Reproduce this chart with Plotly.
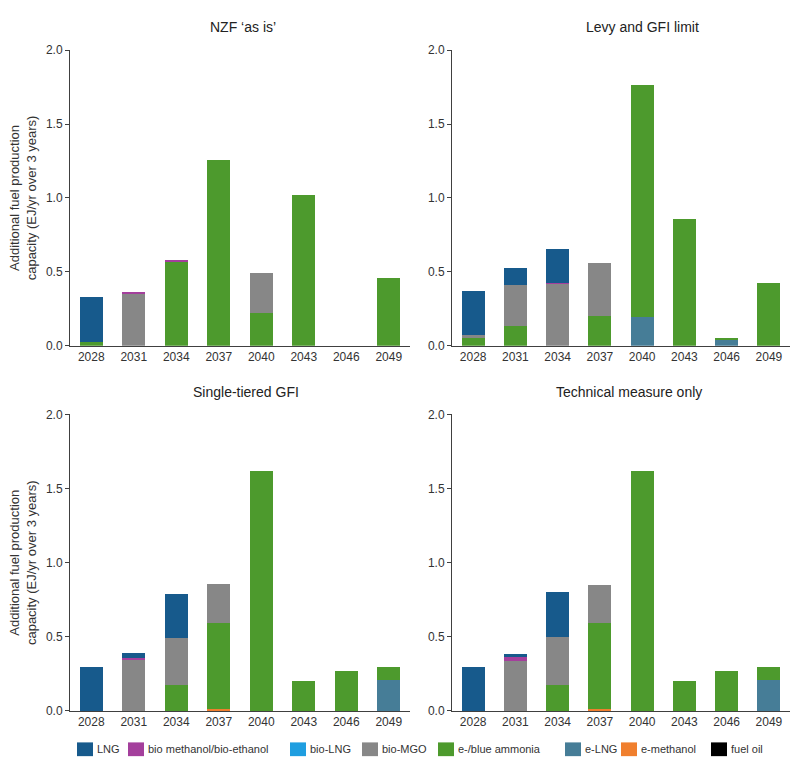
import plotly.graph_objects as go

years = ["2028", "2031", "2034", "2037", "2040", "2043", "2046", "2049"]
scenarios = ["NZF \u2018as is\u2019", "Levy and GFI limit", "Single-tiered GFI", "Technical measure only"]

# stack order bottom -> top
fuels = ["fuel oil", "e-methanol", "e-LNG", "e-/blue ammonia", "bio-MGO", "bio-LNG",
         "bio methanol/bio-ethanol", "LNG"]
legend_order = ["LNG", "bio methanol/bio-ethanol", "bio-LNG", "bio-MGO", "e-/blue ammonia",
                "e-LNG", "e-methanol", "fuel oil"]
colors = {"LNG": "#175a8c", "bio methanol/bio-ethanol": "#a43f9c", "bio-LNG": "#1f9ee0",
          "bio-MGO": "#878787", "e-/blue ammonia": "#4d9a2d", "e-LNG": "#467d97",
          "e-methanol": "#f07f2e", "fuel oil": "#000000"}

Z = [0, 0, 0, 0, 0, 0, 0, 0]

nzf_LNG = [0.31, 0, 0, 0, 0, 0, 0, 0]
nzf_biometh = [0, 0.01, 0.01, 0, 0, 0, 0, 0]
nzf_bioLNG = Z
nzf_bioMGO = [0, 0.355, 0, 0, 0.275, 0, 0, 0]
nzf_ammonia = [0.022, 0, 0.57, 1.26, 0.22, 1.02, 0, 0.458]
nzf_eLNG = Z
nzf_emeth = Z
nzf_fueloil = Z

levy_LNG = [0.30, 0.11, 0.23, 0, 0, 0, 0, 0]
levy_biometh = [0, 0, 0.006, 0, 0, 0, 0, 0]
levy_bioLNG = Z
levy_bioMGO = [0.02, 0.28, 0.42, 0.363, 0, 0, 0, 0]
levy_ammonia = [0.05, 0.133, 0, 0.2, 1.57, 0.855, 0.015, 0.423]
levy_eLNG = [0, 0, 0, 0, 0.195, 0, 0.04, 0]
levy_emeth = Z
levy_fueloil = Z

single_LNG = [0.30, 0.033, 0.302, 0, 0, 0, 0, 0]
single_biometh = [0, 0.015, 0, 0, 0, 0, 0, 0]
single_bioLNG = Z
single_bioMGO = [0, 0.345, 0.313, 0.26, 0, 0, 0, 0]
single_ammonia = [0, 0, 0.177, 0.58, 1.616, 0.199, 0.27, 0.088]
single_eLNG = [0, 0, 0, 0, 0, 0, 0, 0.212]
single_emeth = [0, 0, 0, 0.015, 0, 0, 0, 0]
single_fueloil = Z

tech_LNG = [0.30, 0.022, 0.30, 0, 0, 0, 0, 0]
tech_biometh = [0, 0.022, 0, 0, 0, 0, 0, 0]
tech_bioLNG = Z
tech_bioMGO = [0, 0.34, 0.323, 0.254, 0, 0, 0, 0]
tech_ammonia = [0, 0, 0.177, 0.58, 1.616, 0.199, 0.27, 0.088]
tech_eLNG = [0, 0, 0, 0, 0, 0, 0, 0.212]
tech_emeth = [0, 0, 0, 0.015, 0, 0, 0, 0]
tech_fueloil = Z

def pack(LNG, biometh, bioLNG, bioMGO, ammonia, eLNG, emeth, fueloil):
    return {"LNG": LNG, "bio methanol/bio-ethanol": biometh, "bio-LNG": bioLNG,
            "bio-MGO": bioMGO, "e-/blue ammonia": ammonia, "e-LNG": eLNG,
            "e-methanol": emeth, "fuel oil": fueloil}

data = [
    pack(nzf_LNG, nzf_biometh, nzf_bioLNG, nzf_bioMGO, nzf_ammonia, nzf_eLNG, nzf_emeth, nzf_fueloil),
    pack(levy_LNG, levy_biometh, levy_bioLNG, levy_bioMGO, levy_ammonia, levy_eLNG, levy_emeth, levy_fueloil),
    pack(single_LNG, single_biometh, single_bioLNG, single_bioMGO, single_ammonia, single_eLNG, single_emeth, single_fueloil),
    pack(tech_LNG, tech_biometh, tech_bioLNG, tech_bioMGO, tech_ammonia, tech_eLNG, tech_emeth, tech_fueloil),
]

W, H = 800, 771
# panel pixel boxes: (x0, x1, ytop, ybottom)
boxes = [(70, 410, 44, 345), (452, 790, 44, 345), (70, 410, 415, 717), (452, 790, 415, 717)]
title_pos = [(243, 20), (642, 20), (246, 392), (629, 392)]

fig = go.Figure()
layout = {}
for i, (sc, d) in enumerate(zip(scenarios, data)):
    n = "" if i == 0 else str(i + 1)
    for f in fuels:
        fig.add_trace(go.Bar(x=years, y=d[f], name=f, marker=dict(color=colors[f], line=dict(width=0)),
                             xaxis="x" + n, yaxis="y" + n, showlegend=False))
    x0, x1, yt, yb = boxes[i]
    layout["xaxis" + n] = dict(domain=[x0 / W, x1 / W], anchor="y" + n, type="category",
                               showline=True, linecolor="#404040", linewidth=1, ticks="",
                               tickfont=dict(size=12, color="#333333"), showgrid=False)
    yax = dict(domain=[1 - yb / H, 1 - yt / H], anchor="x" + n, range=[0, 2], dtick=0.5,
               tickformat=".1f", showline=True, linecolor="#404040", linewidth=1,
               ticks="outside", ticklen=4, tickcolor="#404040",
               tickfont=dict(size=12, color="#333333"), showgrid=False, zeroline=False)
    if i in (0, 2):
        yax["title"] = dict(text="Additional fuel production<br>capacity (EJ/yr over 3 years)",
                            font=dict(size=13, color="#333333"), standoff=6)
    layout["yaxis" + n] = yax
    tx, ty = title_pos[i]
    fig.add_annotation(text=sc, x=tx / W, y=1 - ty / H, xref="paper", yref="paper",
                       showarrow=False, font=dict(size=14, color="#222222"),
                       xanchor="center", yanchor="middle")

# custom compact legend (swatch left edges in px)
legend_x = [77, 128, 290, 362, 438, 565, 621, 711]
ly = 756
for f, lx in zip(legend_order, legend_x):
    fig.add_shape(type="rect", xref="paper", yref="paper",
                  x0=lx / W, x1=(lx + 16) / W, y0=1 - (ly + 7) / H, y1=1 - (ly - 7) / H,
                  fillcolor=colors[f], line=dict(width=0))
    fig.add_annotation(text=f, x=(lx + 18) / W, y=1 - ly / H, xref="paper", yref="paper",
                       showarrow=False, xanchor="left", yanchor="middle",
                       font=dict(size=11, color="#333333"))

fig.update_layout(**layout)
fig.update_layout(
    width=W, height=H, barmode="stack", bargap=0.45,
    margin=dict(l=0, r=0, t=0, b=0),
    paper_bgcolor="white", plot_bgcolor="white",
    font=dict(family="Liberation Sans, Arial, sans-serif"),
    showlegend=False,
)
fig.write_html("out.html")
